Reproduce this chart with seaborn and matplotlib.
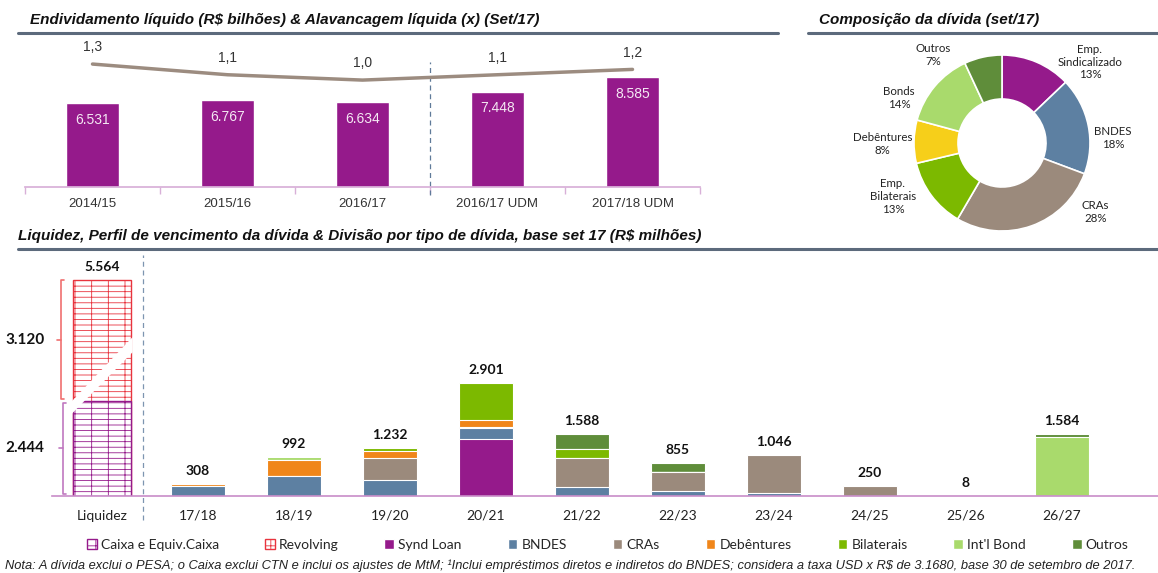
import numpy as np
import matplotlib.pyplot as plt
import seaborn as sns
from matplotlib.patches import Patch, Polygon
from matplotlib.lines import Line2D

# top left: net debt (R$ bn) and leverage
periods = ['2014/15', '2015/16', '2016/17', '2016/17 UDM', '2017/18 UDM']
divida = [6531, 6767, 6634, 7448, 8585]
alavancagem = [1.3, 1.1, 1.0, 1.1, 1.2]

# top right: debt composition (%)
comp_labels = ['Emp.\nSindicalizado', 'BNDES', 'CRAs', 'Emp.\nBilaterais', 'Debêntures', 'Bonds', 'Outros']
comp_pct = [13, 18, 28, 13, 8, 14, 7]

# bottom: liquidity and maturity profile (R$ mm)
venc = ['Liquidez', '17/18', '18/19', '19/20', '20/21', '21/22', '22/23', '23/24', '24/25', '25/26', '26/27']
caixa = 2444
revolving = 3120
synd = [0, 0, 0, 0, 1470, 0, 0, 0, 0, 0, 0]
bndes = [0, 250, 510, 410, 270, 220, 140, 80, 0, 0, 0]
cras = [0, 0, 0, 560, 40, 750, 490, 966, 250, 8, 0]
debent = [0, 58, 420, 200, 180, 0, 0, 0, 0, 0, 0]
bilat = [0, 0, 0, 62, 941, 230, 0, 0, 0, 0, 0]
intl_bond = [0, 0, 62, 0, 0, 0, 0, 0, 0, 0, 1520]
outros = [0, 0, 0, 0, 0, 388, 225, 0, 0, 0, 64]

nota = ("Nota: A dívida exclui o PESA; o Caixa exclui CTN e inclui os ajustes de MtM; ¹Inclui empréstimos diretos e "
        "indiretos do BNDES; considera a taxa USD x R$ de 3.1680, base 30 de setembro de 2017.")

PURPLE = '#951a8b'
BLUE = '#5d80a2'
TAUPE = '#9b8a7c'
ORANGE = '#f0861a'
GREEN = '#7cb900'
LGREEN = '#a9da6c'
DGREEN = '#5f8d3a'
YELLOW = '#f6cf1a'
RED = '#e8343e'
LINE = '#5c6a7c'

sns.set_theme(style='white')
plt.rcParams['font.family'] = ['Liberation Sans', 'DejaVu Sans']
plt.rcParams['hatch.linewidth'] = 0.6
CAL = ['Lato', 'DejaVu Sans']

W, H = 1158, 573
fig = plt.figure(figsize=(W / 100, H / 100), dpi=100)


def box(l, t, r, b):
    return [l / W, 1 - b / H, (r - l) / W, (b - t) / H]


def milhar(v):
    return f"{v:,}".replace(',', '.')


def title(x, y, txt, x0, x1):
    fig.text(x / W, 1 - y / H, txt, fontsize=11, fontweight='bold', style='italic', va='center', color='#111')
    fig.add_artist(Line2D([x0 / W, x1 / W], [1 - (y + 13) / H] * 2, color=LINE, lw=2.2))


title(30, 20, 'Endividamento líquido (R$ bilhões) & Alavancagem líquida (x) (Set/17)', 18, 778)
title(819, 20, 'Composição da dívida (set/17)', 808, 1158)
title(18, 236, 'Liquidez, Perfil de vencimento da dívida & Divisão por tipo de dívida, base set 17 (R$ milhões)', 18, 1158)

# ---- top left
ax1 = fig.add_axes(box(25, 40, 700, 187))
sns.barplot(x=periods, y=divida, color=PURPLE, saturation=1, width=0.39, errorbar=None, ax=ax1)
ax1.set_ylim(0, 11470)
ax1.set_xlim(-0.5, 4.5)
for i, v in enumerate(divida):
    ax1.annotate(milhar(v), (i, v), xytext=(0, -12), textcoords='offset points',
                 ha='center', va='center', color='#f4e8f3', fontsize=10)
for s in ['top', 'left', 'right']:
    ax1.spines[s].set_visible(False)
ax1.spines['bottom'].set_color('#d8b0d8')
ax1.set_yticks([])
ax1.set_ylabel('')
ax1.set_xticks(range(len(periods)))
ax1.set_xticklabels(periods, fontsize=9.5, color='#333')
ax1.tick_params(axis='x', length=0, pad=8)
ax1.set_xticks(np.arange(-0.5, len(periods), 1), minor=True)
ax1.tick_params(axis='x', which='minor', length=5, color='#d8b0d8', bottom=True)
ax1.plot([2.5, 2.5], [-0.054, 0.85], transform=ax1.get_xaxis_transform(),
         ls=(0, (4, 3)), color='#5f7a99', lw=0.9, clip_on=False)

ax1b = ax1.twinx()
sns.lineplot(x=np.arange(len(periods)), y=alavancagem, color='#9c8c80', lw=2.5, ax=ax1b)
ax1b.set_ylim(-1.0, 1.75)
ax1b.set_yticks([])
ax1b.set_ylabel('')
for s in ax1b.spines.values():
    s.set_visible(False)
for i, v in enumerate(alavancagem):
    ax1b.annotate(f"{v:.1f}".replace('.', ','), (i, v), xytext=(0, 12), textcoords='offset points',
                  ha='center', va='center', color='#333', fontsize=10)

# ---- pie
axp = fig.add_axes(box(892, 33, 1112, 253))
axp.pie(comp_pct, colors=[PURPLE, BLUE, TAUPE, GREEN, YELLOW, LGREEN, DGREEN],
        startangle=90, counterclock=False,
        wedgeprops=dict(width=0.5, edgecolor='white', linewidth=1.2))
axp.set_xlim(-1.25, 1.25)
axp.set_ylim(-1.25, 1.25)
label_pos = [(1.0, 0.92), (1.26, 0.06), (1.06, -0.78), (-1.24, -0.61), (-1.36, -0.01), (-1.17, 0.51), (-0.78, 1.0)]
for (lx, ly), lab, p in zip(label_pos, comp_labels, comp_pct):
    axp.text(lx, ly, f"{lab}\n{p}%", ha='center', va='center', fontsize=8.3, color='#222',
             family=CAL, linespacing=1.2)

# ---- bottom stacked bars
ax3 = fig.add_axes(box(52, 255, 1158, 496))
layers = [synd, bndes, cras, debent, bilat, intl_bond, outros]
cores = [PURPLE, BLUE, TAUPE, ORANGE, GREEN, LGREEN, DGREEN]
cum = np.cumsum(np.array(layers), axis=0)
for k in reversed(range(len(layers))):
    sns.barplot(x=venc, y=cum[k], order=venc, color=cores[k], saturation=1, width=0.57,
                edgecolor='white', linewidth=0.8, errorbar=None, ax=ax3)

sns.barplot(x=['Liquidez'], y=[caixa + revolving], order=venc, color='white', saturation=1,
            width=0.6, edgecolor=RED, hatch='---|', linewidth=1, errorbar=None, ax=ax3)
sns.barplot(x=['Liquidez'], y=[caixa], order=venc, color='white', saturation=1,
            width=0.6, edgecolor=PURPLE, hatch='---|', linewidth=1, errorbar=None, ax=ax3)
# white "break" band over the liquidity column
ax3.add_patch(Polygon([(-0.32, 2100), (0.32, 3700), (0.32, 4090), (-0.32, 2420)],
                      facecolor='white', edgecolor='none', zorder=5))

totais = cum[-1].copy()
totais[0] = caixa + revolving
for i, t in enumerate(totais):
    ax3.annotate(milhar(int(t)), (i, t), xytext=(0, 5), textcoords='offset points',
                 ha='center', va='bottom', fontweight='bold', fontsize=10, family=CAL, color='#111')

# brackets for the liquidity split
bx = -0.41
ax3.plot([bx + 0.04, bx, bx, bx + 0.04], [40, 40, caixa - 60, caixa - 60], color='#c078c0', lw=1.2, clip_on=False)
ax3.plot([bx - 0.04, bx], [caixa / 2] * 2, color='#c078c0', lw=1.2, clip_on=False)
ax3.plot([bx + 0.02, bx - 0.02, bx - 0.02, bx + 0.02],
         [caixa + 60, caixa + 60, caixa + revolving - 20, caixa + revolving - 20],
         color='#f07070', lw=1.2, clip_on=False)
ax3.plot([bx - 0.06, bx - 0.02], [caixa + revolving / 2] * 2, color='#f07070', lw=1.2, clip_on=False)
ax3.text(-0.6, caixa / 2, milhar(caixa), ha='right', va='center', fontsize=11, fontweight='bold',
         family=CAL, color='#111')
ax3.text(-0.6, caixa + revolving / 2, milhar(revolving), ha='right', va='center', fontsize=11, fontweight='bold',
         family=CAL, color='#111')

ax3.set_xlim(-0.52, 11.0)
ax3.set_ylim(0, 6200)
for s in ['top', 'left', 'right']:
    ax3.spines[s].set_visible(False)
ax3.spines['bottom'].set_color('#c88cc8')
ax3.spines['bottom'].set_linewidth(1.2)
ax3.set_yticks([])
ax3.set_ylabel('')
ax3.set_xticks(range(len(venc)))
ax3.set_xticklabels(venc, fontsize=10, family=CAL, color='#222')
ax3.tick_params(axis='x', length=0, pad=10)
ax3.plot([0.43, 0.43], [-0.1, 1.0], transform=ax3.get_xaxis_transform(),
         ls=(0, (4, 3)), color='#7d95b0', lw=0.9, clip_on=False)

handles = [Patch(facecolor='white', edgecolor=PURPLE, hatch='++'),
           Patch(facecolor='white', edgecolor=RED, hatch='++')] + [Patch(facecolor=c) for c in cores]
names = ['Caixa e Equiv.Caixa', 'Revolving', 'Synd Loan', 'BNDES', 'CRAs', 'Debêntures', 'Bilaterais',
         "Int'l Bond", 'Outros']
fig.legend(handles, names, loc='center', bbox_to_anchor=(0.525, 1 - 545 / H), ncol=9, frameon=False,
           handlelength=0.7, handleheight=0.7, handletextpad=0.3, columnspacing=3.3,
           prop=dict(family=CAL, size=10))

fig.text(5 / W, 1 - 566 / H, nota, fontsize=9.3, style='italic', va='center', color='#222')

fig.savefig('out.png', dpi=100)
